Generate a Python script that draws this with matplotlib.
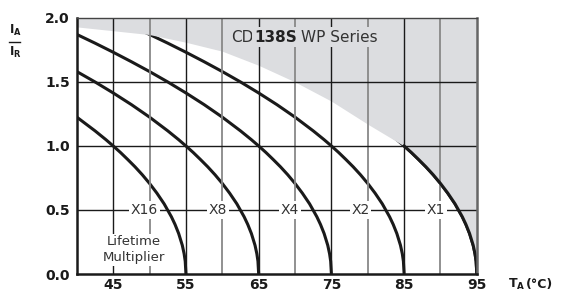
import numpy as np
import matplotlib
matplotlib.use("Agg")
import matplotlib.pyplot as plt
from matplotlib.lines import Line2D

plt.rcParams["font.family"] = ["Liberation Sans Narrow", "DejaVu Sans"]

# ── データ ────────────────────────────────────────────────
# 各カーブの終点温度（I_A/I_R = 0 となる温度）と寿命倍率ラベル
end_temps = [55, 65, 75, 85, 95]
multipliers = ["X16", "X8", "X4", "X2", "X1"]
label_temps = [49.3, 59.4, 69.3, 79.0, 89.4]

# カーブ形状（終点温度からの差 ΔT と I_A/I_R、図から読み取り）
curve_dT = [0, 0.1, 0.25, 0.5, 1, 1.5, 2, 3, 4, 5, 6, 7, 8, 9, 10,
            11, 12.5, 15, 17.5, 20, 22.5, 25, 27.5, 30, 32.5, 35, 40, 45, 50, 55]
curve_ratio = [0.0, 0.10, 0.158, 0.224, 0.316, 0.387, 0.447, 0.548, 0.632, 0.707,
               0.775, 0.837, 0.894, 0.949, 1.0, 1.049, 1.118, 1.225, 1.323, 1.414,
               1.5, 1.581, 1.658, 1.732, 1.803, 1.871, 2.0, 2.121, 2.236, 2.345]

# 灰色領域の上側境界（1.0 より上）
bound_T = [40, 45, 50, 55, 60, 65, 70, 75, 80, 85]
bound_y = [1.93, 1.90, 1.87, 1.81, 1.74, 1.63, 1.50, 1.35, 1.17, 1.0]

major_x = [45, 55, 65, 75, 85]
minor_x = [50, 60, 70, 80, 90]
y_ticks = [0.0, 0.5, 1.0, 1.5, 2.0]
x_ticks = [45, 55, 65, 75, 85, 95]

fig = plt.figure(figsize=(5.61, 2.94), dpi=100)
ax = fig.add_axes([0.137, 0.068, 0.713, 0.871])

dT = np.array(curve_dT)
ratio = np.array(curve_ratio)

# カーブ
for T_end in end_temps:
    x = T_end - dT
    ax.plot(x, ratio, color="#1a1a1a", lw=2.2, zorder=2, solid_capstyle="butt")

# 灰色領域（境界 + X1 カーブの下部）
x1_mask = dT <= 10
fill_x = np.concatenate([bound_T, (95 - dT[x1_mask])[::-1][1:]])
fill_y = np.concatenate([bound_y, ratio[x1_mask][::-1][1:]])
ax.fill_between(fill_x, fill_y, 2.0, color="#dcdde0", lw=0, zorder=3)
ax.plot(95 - dT[x1_mask], ratio[x1_mask], color="#1a1a1a", lw=2.2, zorder=4.5)

# グリッド
for xv in major_x:
    ax.axvline(xv, color="#1a1a1a", lw=1.0, zorder=4)
for xv in minor_x:
    ax.axvline(xv, color="#888888", lw=1.3, zorder=4)
for yv in [0.5, 1.0, 1.5]:
    ax.axhline(yv, color="#1a1a1a", lw=1.0, zorder=4)

# 倍率ラベル
for xt, lab in zip(label_temps, multipliers):
    ax.text(xt, 0.5, lab, ha="center", va="center", fontsize=10, color="#333333",
            zorder=6, bbox=dict(boxstyle="square,pad=0.12", fc="white", ec="none"))
ax.text(47.8, 0.19, "Lifetime\nMultiplier", ha="center", va="center", fontsize=9.5,
        color="#333333", linespacing=1.35, zorder=6,
        bbox=dict(boxstyle="square,pad=0.1", fc="white", ec="none"))

# タイトル（CD 138S WP Series）
fig.canvas.draw()
r = fig.canvas.get_renderer()
gray_box = dict(boxstyle="square,pad=0.15", fc="#dcdde0", ec="none")
ty = 0.925
t1 = ax.text(0.385, ty, "CD", transform=ax.transAxes, fontsize=11,
             color="#333333", va="center", ha="left", zorder=6, bbox=gray_box)
bb = t1.get_window_extent(r)
x_next = ax.transAxes.inverted().transform((bb.x1 + 1, 0))[0]
t2 = ax.text(x_next, ty, "138S", transform=ax.transAxes, fontsize=11,
             fontweight="bold", color="#222222", va="center", ha="left", zorder=6,
             bbox=gray_box)
bb = t2.get_window_extent(r)
x_next = ax.transAxes.inverted().transform((bb.x1 + 4, 0))[0]
ax.text(x_next, ty, "WP Series", transform=ax.transAxes, fontsize=11,
        color="#333333", va="center", ha="left", zorder=6, bbox=gray_box)

ax.set_xlim(40, 95)
ax.set_ylim(0, 2.0)
ax.set_xticks(x_ticks)
ax.set_yticks(y_ticks)
ax.set_xticklabels([str(v) for v in x_ticks], fontsize=10, fontweight="bold")
ax.set_yticklabels([f"{v:.1f}" for v in y_ticks], fontsize=10, fontweight="bold")
ax.tick_params(axis="x", length=0, pad=3, colors="#1a1a1a")
ax.tick_params(axis="y", length=0, pad=5, colors="#1a1a1a")

for s in ["left", "bottom"]:
    ax.spines[s].set_linewidth(1.8)
    ax.spines[s].set_color("#1a1a1a")
ax.spines["right"].set_linewidth(1.8)
ax.spines["right"].set_color("#666666")
ax.spines["top"].set_linewidth(1.0)
ax.spines["top"].set_color("#444444")
for s in ax.spines.values():
    s.set_zorder(7)

# 軸ラベル
tx = fig.text(0.905, 0.034, r"$\mathbf{T}_{\mathbf{A}}$", fontsize=9, va="center",
              ha="left", color="#1a1a1a")
bb = tx.get_window_extent(r)
fig.text((bb.x1 + 1) / fig.bbox.width, 0.034, "(°C)", fontsize=9,
         fontweight="bold", va="center", ha="left", color="#1a1a1a")
fig.text(0.016, 0.895, r"$\mathbf{I}_{\mathbf{A}}$", fontsize=8.5, va="center",
         ha="left", color="#1a1a1a")
fig.add_artist(Line2D([0.016, 0.036], [0.858, 0.858], transform=fig.transFigure,
                      color="#1a1a1a", lw=1.0))
fig.text(0.016, 0.822, r"$\mathbf{I}_{\mathbf{R}}$", fontsize=8.5, va="center",
         ha="left", color="#1a1a1a")

fig.savefig("out.png", dpi=100)
